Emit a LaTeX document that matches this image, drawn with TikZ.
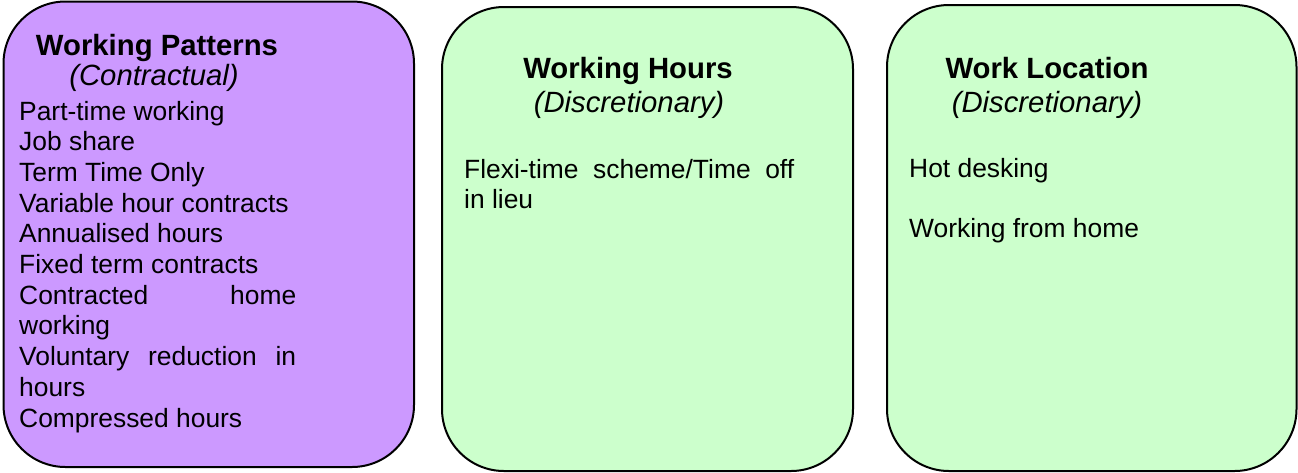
\documentclass[tikz,border=0pt]{standalone}
\usepackage{fontspec}
\setmainfont{Liberation Sans}
\definecolor{contractfill}{HTML}{CC99FF}
\definecolor{discrfill}{HTML}{CCFFCC}
\begin{document}
\begin{tikzpicture}[x=1pt,y=-1pt,
  panel/.style={draw=black,line width=2pt,rounded corners=62pt,inner sep=0pt,outer sep=0pt},
  heading/.style={inner sep=0pt,anchor=base,font=\bfseries\fontsize{29.3}{33}\selectfont},
  subhead/.style={inner sep=0pt,anchor=base,font=\itshape\fontsize{29.3}{33}\selectfont},
  item/.style={inner sep=0pt,anchor=base west,font=\fontsize{26.4}{30.7}\selectfont}]
\useasboundingbox (0,0) rectangle (1298,472);

% three panels
\node[panel,fill=contractfill,minimum width=410.5pt,minimum height=465.5pt] (patterns) at (208.75,234.25) {};
\node[panel,fill=discrfill,minimum width=411pt,minimum height=464pt] (hours) at (647.5,239) {};
\node[panel,fill=discrfill,minimum width=409.5pt,minimum height=466pt] (location) at (1091.75,238) {};

% Working Patterns
\node[heading] (ph) at (157,55.5) {Working Patterns};
\node[subhead] (ps) at (154,85.5) {(Contractual)};
\node[item] (p1) at (19,120) {Part-time working};
\node[item] (p2) at (19,150.7) {Job share};
\node[item] (p3) at (19,181.4) {Term Time Only};
\node[item] (p4) at (19,212.1) {Variable hour contracts};
\node[item] (p5) at (19,242.8) {Annualised hours};
\node[item] (p6) at (19,273.5) {Fixed term contracts};
\node[item] (p7) at (19,304.2) {\makebox[277pt][s]{Contracted home}};
\node[item] (p8) at (19,334.9) {working};
\node[item] (p9) at (19,365.6) {\makebox[277pt][s]{Voluntary reduction in}};
\node[item] (p10) at (19,396.3) {hours};
\node[item] (p11) at (19,427) {Compressed hours};

% Working Hours
\node[heading] (hh) at (628,78) {Working Hours};
\node[subhead] (hs) at (629,112) {(Discretionary)};
\node[item] (h1) at (464,178) {\makebox[330pt][s]{Flexi-time scheme/Time off}};
\node[item] (h2) at (464,208.7) {in lieu};

% Work Location
\node[heading] (lh) at (1047,78) {Work Location};
\node[subhead] (ls) at (1047,112) {(Discretionary)};
\node[item] (l1) at (909,177) {Hot desking};
\node[item] (l2) at (909,237) {Working from home};
\end{tikzpicture}
\end{document}
